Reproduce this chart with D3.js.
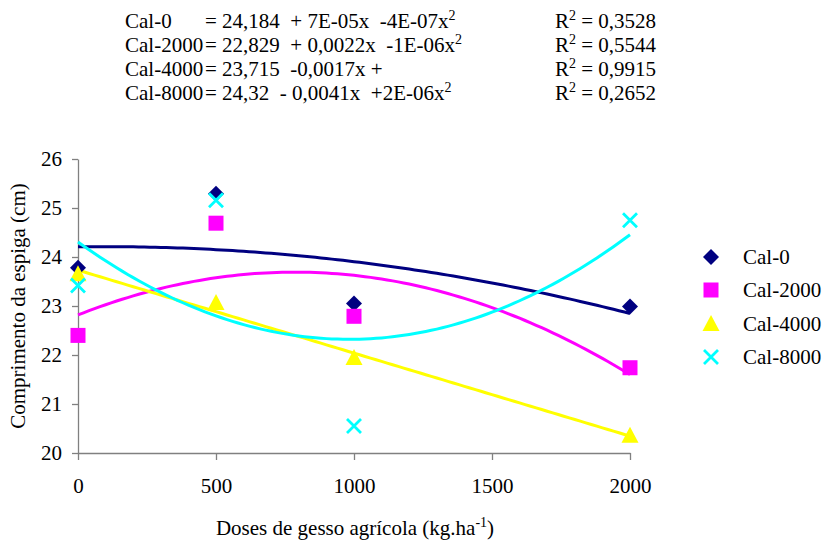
<!DOCTYPE html>
<html>
<head>
<meta charset="utf-8">
<script src="https://cdn.jsdelivr.net/npm/d3@7"></script>
<style>
  body { margin: 0; background: #fff; }
</style>
</head>
<body>
<script>
var doses = [0, 500, 1000, 2000];
var xTicks = [0, 500, 1000, 1500, 2000];
var yTicks = [20, 21, 22, 23, 24, 25, 26];
var seriesNames = ["Cal-0", "Cal-2000", "Cal-4000", "Cal-8000"];
var cal0 = [23.78, 25.29, 23.05, 22.99];
var cal2000 = [22.40, 24.69, 22.79, 21.74];
var cal4000 = [23.65, 23.06, 21.94, 20.35];
var cal8000 = [23.42, 25.16, 20.55, 24.75];
var trendDegree = [2, 2, 1, 2];
var equations = [
  ["= 24,184  + 7E-05x  -4E-07x", "2"],
  ["= 22,829  + 0,0022x  -1E-06x", "2"],
  ["= 23,715  -0,0017x + ", ""],
  ["= 24,32  - 0,0041x  +2E-06x", "2"]
];
var r2 = ["0,3528", "0,5544", "0,9915", "0,2652"];

var colors = ["#000080", "#FF00FF", "#FFFF00", "#00FFFF"];
var shapes = ["diamond", "square", "triangle", "cross"];
var values = [cal0, cal2000, cal4000, cal8000];

var serif = "'Liberation Serif'";

var margin = {top: 159, left: 78},
    width = 630 - 78,
    height = 453 - 159;

var svg = d3.select("body")
  .append("svg")
    .attr("width", 827)
    .attr("height", 540)
    .attr("font-family", serif);

function label(sel, xp, yp, size) {
  return sel.append("text").attr("x", xp).attr("y", yp)
    .attr("font-family", serif).attr("font-size", size)
    .attr("xml:space", "preserve");
}

// equations block
seriesNames.forEach(function(name, i) {
  var yb = 28 + i * 24;
  label(svg, 125, yb, 21).text(name);
  var t = label(svg, 205, yb, 21);
  t.append("tspan").text(equations[i][0]);
  if (equations[i][1]) {
    t.append("tspan").attr("dy", -8).attr("font-size", 14).text(equations[i][1]);
  }
  var r = label(svg, 555, yb, 21);
  r.append("tspan").text("R");
  r.append("tspan").attr("dy", -8).attr("font-size", 14).text("2");
  r.append("tspan").attr("dy", 8).text(" = " + r2[i]);
});

var g = svg.append("g")
  .attr("transform", "translate(" + margin.left + "," + margin.top + ")");

var x = d3.scaleLinear().domain([0, 2000]).range([0, width]);
var y = d3.scaleLinear().domain([20, 26]).range([height, 0]);

var xAxis = g.append("g")
  .attr("transform", "translate(0," + height + ")")
  .call(d3.axisBottom(x).tickValues(xTicks).tickSize(7).tickSizeOuter(0).tickPadding(18).tickFormat(d3.format("d")));
var yAxis = g.append("g")
  .call(d3.axisLeft(y).tickValues(yTicks).tickSize(6).tickSizeOuter(0).tickPadding(10).tickFormat(d3.format("d")));

[xAxis, yAxis].forEach(function(a) {
  a.attr("font-family", serif).attr("font-size", 21);
  a.select(".domain").attr("stroke", "#808080").attr("stroke-width", 1.3);
  a.selectAll(".tick line").attr("stroke", "#808080").attr("stroke-width", 1.3);
  a.selectAll(".tick text").attr("font-family", serif).attr("fill", "#000");
});

// least squares polynomial fit
function polyfit(xs, ys, deg) {
  var n = deg + 1, A = [], b = [];
  for (var r = 0; r < n; r++) {
    A.push([]);
    for (var c = 0; c < n; c++) A[r].push(d3.sum(xs, function(v) { return Math.pow(v, r + c); }));
    b.push(d3.sum(xs, function(v, k) { return ys[k] * Math.pow(v, r); }));
  }
  for (var p = 0; p < n; p++) {
    for (var q = p + 1; q < n; q++) {
      var f = A[q][p] / A[p][p];
      for (var c2 = p; c2 < n; c2++) A[q][c2] -= f * A[p][c2];
      b[q] -= f * b[p];
    }
  }
  var coef = new Array(n);
  for (var i = n - 1; i >= 0; i--) {
    var s = b[i];
    for (var j = i + 1; j < n; j++) s -= A[i][j] * coef[j];
    coef[i] = s / A[i][i];
  }
  return coef;
}

var line = d3.line()
  .x(function(d) { return x(d[0]); })
  .y(function(d) { return y(d[1]); });

values.forEach(function(vals, i) {
  var coef = polyfit(doses, vals, trendDegree[i]);
  var pts = d3.range(0, 2001, 20).map(function(v) {
    return [v, coef.reduce(function(s, c, k) { return s + c * Math.pow(v, k); }, 0)];
  });
  g.append("path").datum(pts)
    .attr("fill", "none")
    .attr("stroke", colors[i])
    .attr("stroke-width", 3)
    .attr("d", line);
});

function drawMarker(sel, shape, color, cx, cy) {
  if (shape == "diamond") {
    sel.append("path").attr("d", "M0,-8L8,0L0,8L-8,0Z")
      .attr("transform", "translate(" + cx + "," + cy + ")").attr("fill", color);
  } else if (shape == "square") {
    sel.append("rect").attr("x", cx - 7.5).attr("y", cy - 7.5)
      .attr("width", 15).attr("height", 15).attr("fill", color);
  } else if (shape == "triangle") {
    sel.append("path").attr("d", "M0,-9L8.5,7L-8.5,7Z")
      .attr("transform", "translate(" + cx + "," + cy + ")").attr("fill", color);
  } else {
    sel.append("path").attr("d", "M-7,-7L7,7M-7,7L7,-7")
      .attr("transform", "translate(" + cx + "," + cy + ")")
      .attr("stroke", color).attr("stroke-width", 2.8).attr("fill", "none");
  }
}

values.forEach(function(vals, i) {
  var mg = g.append("g");
  vals.forEach(function(v, k) {
    drawMarker(mg, shapes[i], colors[i], x(doses[k]), y(v));
  });
});

// legend
var legY = [257, 290, 324, 357];
seriesNames.forEach(function(name, i) {
  drawMarker(svg, shapes[i], colors[i], 711, legY[i]);
  label(svg, 743, legY[i] + 7, 21).text(name);
});

// axis titles
label(svg, null, null, 21)
  .attr("transform", "translate(25,306) rotate(-90)")
  .attr("text-anchor", "middle")
  .text("Comprimento da espiga (cm)");

var xt = label(svg, 355, 535, 21).attr("text-anchor", "middle");
xt.append("tspan").text("Doses de gesso agrícola (kg.ha");
xt.append("tspan").attr("dy", -8).attr("font-size", 14).text("-1");
xt.append("tspan").attr("dy", 8).text(")");
</script>
</body>
</html>
